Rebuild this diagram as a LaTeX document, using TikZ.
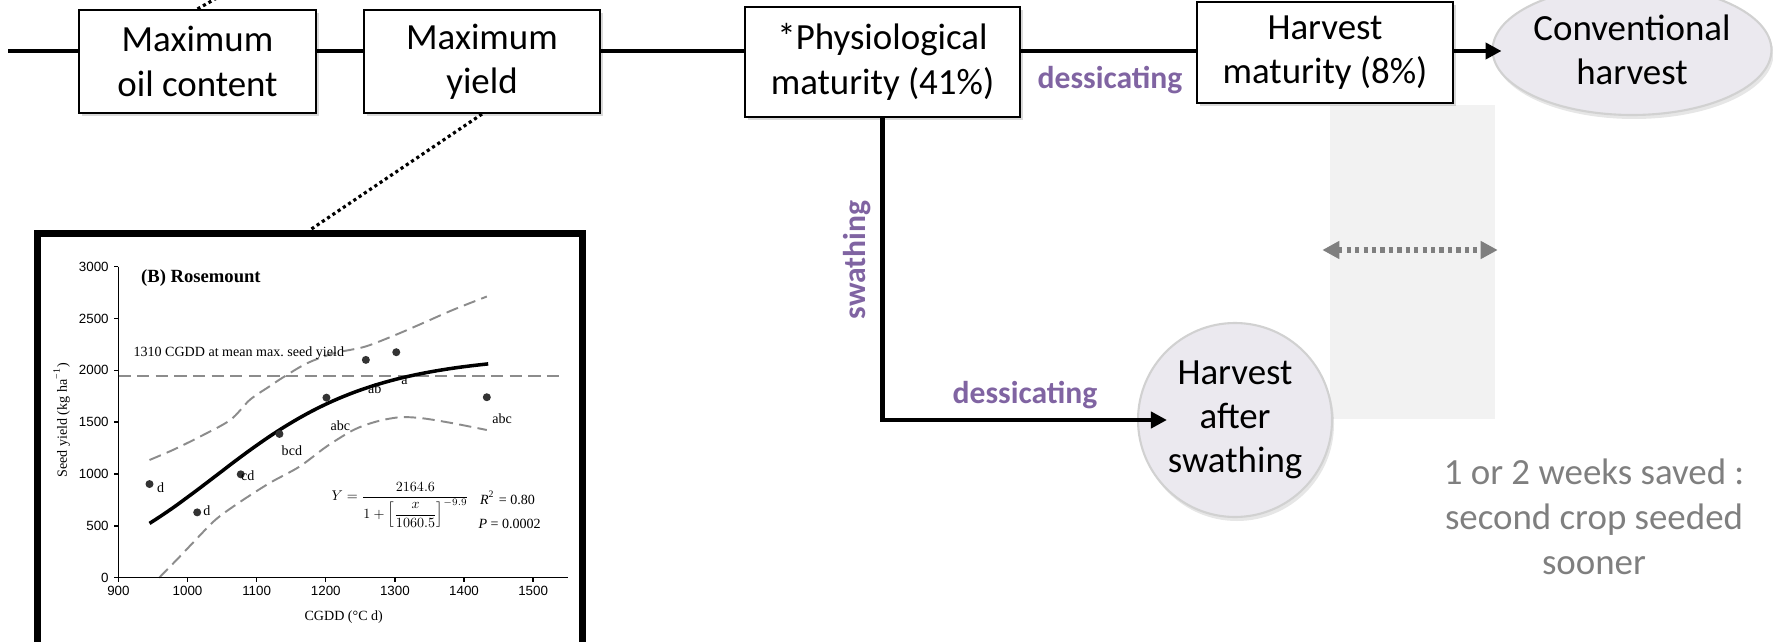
\documentclass[tikz,border=0pt]{standalone}
\usepackage{amsmath}
\usepackage{fontspec}
\setmainfont{Carlito}
\newfontfamily\plotserif{Liberation Serif}
\newfontfamily\plotsans{Liberation Sans}
\usepackage{xcolor}
\usepackage{tikz}
\usetikzlibrary{arrows.meta, positioning, shapes.geometric, shadows}
\definecolor{actpurple}{RGB}{128,100,162}
\definecolor{harvestfill}{RGB}{235,233,239}
\definecolor{bandgray}{RGB}{242,242,242}
\definecolor{notegray}{RGB}{127,127,127}

\begin{document}
\begin{tikzpicture}[
      stage/.style={draw, fill=white, line width=0.6pt, align=center, inner sep=0pt,
                    font=\fontsize{10.5}{12.6}\selectfont,
                    drop shadow={shadow xshift=0.03cm, shadow yshift=-0.03cm, opacity=0.3}},
      harvest/.style={draw=black!18, fill=harvestfill, line width=0.6pt, align=center,
                      inner sep=0pt, font=\fontsize{10.5}{12.6}\selectfont,
                      drop shadow={shadow xshift=0.02cm, shadow yshift=-0.04cm, opacity=0.2}},
      spine/.style={line width=1.4pt},
      arr/.style={spine, -{Triangle[length=0.16cm, width=0.16cm]}},
      act/.style={text=actpurple, font=\fontsize{9}{11}\selectfont\bfseries},
      callout/.style={line width=0.9pt, dash pattern=on 0.9pt off 0.9pt},
      gaparr/.style={draw=notegray, line width=1.5pt, dash pattern=on 1.2pt off 1.2pt,
                     {Triangle[length=0.17cm, width=0.17cm]}-{Triangle[length=0.17cm, width=0.17cm]}},
      frame/.style={draw, fill=white, line width=2pt,
                    drop shadow={shadow xshift=0.03cm, shadow yshift=-0.03cm, opacity=0.35}},
      conf/.style={draw=black!45, line width=0.55pt, dash pattern=on 3.5pt off 1.8pt},
      dot/.style={circle, fill=black!80, inner sep=0pt, minimum size=0.08cm},
      plotfont/.style={font=\plotserif\fontsize{4}{5}\selectfont}
    ]
    \useasboundingbox (0,0) rectangle (17.73,-6.41);
    \clip (0,0) rectangle (17.73,-6.41);

    \node[fill=bandgray, minimum width=1.65cm, minimum height=3.14cm] (band) at (14.125,-2.62) {};

    \node[stage, minimum width=2.37cm, minimum height=1.03cm] (b1) at (1.975,-0.615) {Maximum\\oil content};
    \node[stage, minimum width=2.36cm, minimum height=1.03cm] (b2) at (4.82,-0.615) {Maximum\\yield};
    \node[stage, minimum width=2.75cm, minimum height=1.10cm] (b3) at (8.825,-0.62) {*Physiological\\maturity (41\%)};
    \node[stage, minimum width=2.56cm, minimum height=1.01cm] (b4) at (13.25,-0.525) {Harvest\\maturity (8\%)};
    \node[harvest, ellipse, minimum width=2.75cm, minimum height=1.30cm] (conv) at (16.32,-0.50) {Conventional\\harvest};
    \node[harvest, circle, minimum size=1.94cm] (hs) at (12.35,-4.20) {Harvest\\after\\swathing};

    \coordinate (start) at (0.08,-0.51);
    \coordinate (convin) at ([xshift=0.1cm]conv.west);
    \coordinate (turn) at (b3.south |- hs.west);
    \coordinate (hsin) at ([xshift=0.3cm]hs.west);

    \draw[spine] (start) -- (start -| b1.west);
    \draw[spine] (b1.east |- start) -- (b2.west |- start);
    \draw[spine] (b2.east |- start) -- (b3.west |- start);
    \draw[spine] (b3.east |- start) -- (b4.west |- start);
    \draw[arr] (b4.east |- start) -- (convin |- start);
    \draw[arr] (b3.south) -- (turn) -- (hsin);

    \node[act] (dtop) at (11.10,-0.80) {dessicating};
    \node[act] (dlow) at (10.25,-3.95) {dessicating};
    \node[act, rotate=90] (sw) at (8.57,-2.60) {swathing};

    \draw[gaparr] ([shift={(-0.07,0.12)}]band.west) -- ([shift={(0.02,0.12)}]band.east);
    \node[text=notegray, align=center, font=\fontsize{10.5}{12.8}\selectfont] (note) at (15.94,-5.17)
      {1 or 2 weeks saved :\\second crop seeded\\sooner};

    \node[frame, minimum width=5.45cm, minimum height=4.27cm] (plot) at (3.10,-4.47) {};
    \coordinate (above) at (2.31,0.10);
    \draw[callout] (b1.north) -- (above);
    \draw[callout] (b2.south) -- (plot.north);

    \begin{scope}[x=0.00691cm, y=0.001037cm, shift={(-5.037cm,-5.777cm)}, plotfont]
      \draw[conf] plot[smooth] coordinates {(945,1135) (979,1232) (1018,1360) (1062,1521)
        (1090,1714) (1118,1842) (1140,1939) (1173,2068) (1212,2164) (1257,2228) (1301,2341)
        (1340,2453) (1384,2582) (1433,2711)};
      \draw[conf] plot[smooth] coordinates {(959,0) (984,170) (1007,331) (1040,556) (1073,717)
        (1118,910) (1162,1071) (1201,1264) (1240,1424) (1273,1505) (1307,1547) (1340,1537)
        (1384,1489) (1433,1424)};
      \draw[conf] (900,1948) -- (1540,1948);
      \draw[line width=1pt] plot[domain=945:1435, samples=60] (\x, {2164.6/(1+exp(-9.9*ln(\x/1060.5)))});

      \draw[line width=0.4pt] (900,3000) -- (900,0) -- (1550,0);
      \foreach \v in {0,500,...,3000}
        \draw[line width=0.4pt] (900,\v) -- (893,\v)
          node[anchor=east, inner sep=1.2pt, font=\plotsans\fontsize{3.8}{4.5}\selectfont] (yl\v) {\v};
      \foreach \u in {900,1000,...,1500}
        \draw[line width=0.4pt] (\u,0) -- (\u,-44)
          node[anchor=north, inner sep=1pt, font=\plotsans\fontsize{3.8}{4.5}\selectfont] (xl\u) {\u};

      \foreach \cx/\cy/\lx/\ly/\ll [count=\i] in {945/903/961/872/d, 1014/630/1028/643/d,
          1077/997/1087/981/cd, 1133/1386/1151/1225/bcd, 1201/1736/1221/1463/abc,
          1258/2100/1271/1820/ab, 1302/2174/1314/1890/a, 1433/1740/1455/1530/abc} {
        \node[dot] (p\i) at (\cx,\cy) {};
        \node[inner sep=0pt] (q\i) at (\lx,\ly) {\ll};
      }

      \node[anchor=west, font=\plotserif\fontsize{5.3}{6.3}\selectfont\bfseries] (site) at (915,2887) {(B) Rosemount};
      \node[anchor=west] (maxy) at (904,2164) {1310 CGDD at mean max.\ seed yield};
      \node[rotate=90] (ylab) at (818,1520) {Seed yield (kg ha\textsuperscript{−1})};
      \node (xlab) at (1226,-376) {CGDD (°C d)};
      \node[font=\fontsize{10}{12}\selectfont, scale=0.4, transform shape] (fit) at (1308,700)
        {$Y=\dfrac{2164.6}{1+\left[\dfrac{x}{1060.5}\right]^{-9.9}}$};
      \node (rsq) at (1463,766) {\textit{R}\textsuperscript{2} = 0.80};
      \node (pval) at (1466,518) {\textit{P} = 0.0002};
    \end{scope}
  \end{tikzpicture}
\end{document}
